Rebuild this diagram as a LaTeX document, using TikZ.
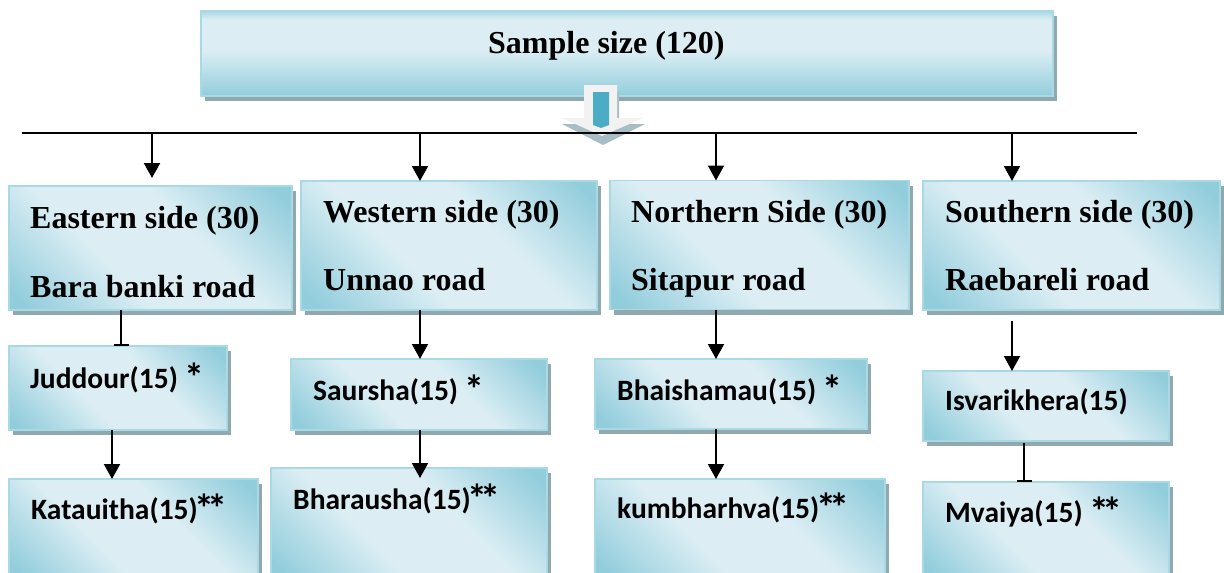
\documentclass[tikz,border=0pt]{standalone}
\usepackage{fontspec}
\setmainfont{Liberation Serif}
\newfontfamily\calfont{Carlito}
\usetikzlibrary{arrows.meta,shadows}
\definecolor{bdark}{HTML}{92CDDC}
\definecolor{blight}{HTML}{DCEEF4}
\definecolor{bborder}{HTML}{A9D9E5}
\definecolor{shgray}{HTML}{8FA9AF}
\definecolor{ablue}{HTML}{4BACC6}
\definecolor{awhite}{HTML}{F2F2F2}
\definecolor{agray}{HTML}{A7BEC4}
\pgfdeclarehorizontalshading{boxsh}{100bp}{color(0bp)=(bdark); color(18bp)=(bdark); color(40bp)=(blight); color(60bp)=(blight); color(82bp)=(bdark); color(100bp)=(bdark)}
\pgfdeclareverticalshading{topsh}{100bp}{color(0bp)=(bdark); color(25bp)=(bdark); color(52bp)=(blight); color(70bp)=(blight); color(75bp)=(bdark!70!blight); color(100bp)=(bdark!70!blight)}
\newcommand{\oneast}{\raisebox{-3pt}{\fontsize{40}{40}\selectfont *}}
\newcommand{\twoast}{\raisebox{-3pt}{\fontsize{40}{40}\selectfont *\kern-7pt*}}
\tikzset{
  boxbase/.style={draw=bborder, line width=1.3pt, inner sep=0pt, outer sep=0pt,
    general shadow={fill=shgray, shadow xshift=4pt, shadow yshift=-5pt}},
  bigbox/.style={boxbase, shading=boxsh, shading angle=45},
  topbox/.style={boxbase, shading=topsh},
  bigtxt/.style={anchor=base west, inner sep=0pt, font=\fontsize{32}{36}\selectfont\bfseries},
  smalltxt/.style={anchor=base west, inner sep=0pt, font=\fontsize{29.5}{32}\selectfont\calfont\bfseries},
  conn/.style={line width=2pt, -{Triangle[width=16pt,length=15pt]}},
  tconn/.style={line width=2pt, -{Bar[width=15pt,line width=2pt]}}
}
\begin{document}
\begin{tikzpicture}[x=1pt,y=-1pt]
\useasboundingbox (0,0) rectangle (1224,573);
% top box
\node[topbox, minimum width=852pt, minimum height=85pt] (top) at (627,53.5) {};
\node[bigtxt] (toptxt) at (488,53) {Sample size (120)};
% block arrow
\fill[agray] (584,92) -- (619,92) -- (619,124) -- (645,124) -- (603,145) -- (562,124) -- (584,124) -- cycle;
\fill[awhite] (584,85) -- (617,85) -- (617,118) -- (643,118) -- (602,136) -- (562,118) -- (584,118) -- cycle;
\fill[ablue] (593,92) -- (609,92) -- (609,125) -- (601,128) -- (593,125) -- cycle;
% horizontal line
\coordinate (hl) at (22,133);
\coordinate (hr) at (1137,133);
\draw[line width=2pt] (hl) -- (hr);
\coordinate (b1) at (152,133);
\coordinate (b2) at (420,133);
\coordinate (b3) at (716,133);
\coordinate (b4) at (1012,133);
% big boxes
\node[bigbox, minimum width=283pt, minimum height=124pt] (east) at (150.5,248) {};
\node[bigbox, minimum width=296pt, minimum height=129pt] (west) at (449,245.5) {};
\node[bigbox, minimum width=299pt, minimum height=129pt] (north) at (759.5,245) {};
\node[bigbox, minimum width=297pt, minimum height=129pt] (south) at (1071.5,245.5) {};
\node[bigtxt] (eastA) at (30,228) {Eastern side (30)};
\node[bigtxt] (eastB) at (30,297) {Bara banki road};
\node[bigtxt] (westA) at (323,222) {Western side (30)};
\node[bigtxt] (westB) at (323,290) {Unnao road};
\node[bigtxt] (northA) at (631,222) {Northern Side (30)};
\node[bigtxt] (northB) at (631,290) {Sitapur road};
\node[bigtxt] (southA) at (945,222) {Southern side (30)};
\node[bigtxt] (southB) at (945,290) {Raebareli road};
% small boxes
\node[bigbox, minimum width=218pt, minimum height=84pt] (judd) at (118,388) {};
\node[bigbox, minimum width=249pt, minimum height=101pt] (kata) at (133.5,529.5) {};
\node[bigbox, minimum width=256pt, minimum height=71pt] (saur) at (419,394.5) {};
\node[bigbox, minimum width=276pt, minimum height=112pt] (bhar) at (409,524) {};
\node[bigbox, minimum width=272pt, minimum height=70pt] (bhai) at (731,394) {};
\node[bigbox, minimum width=290pt, minimum height=101pt] (kumb) at (740,529.5) {};
\node[bigbox, minimum width=246pt, minimum height=70pt] (isva) at (1046,406) {};
\node[bigbox, minimum width=246pt, minimum height=98pt] (mvai) at (1046,531) {};
\node[smalltxt] (juddT) at (30,388) {Juddour(15) \oneast};
\node[smalltxt] (kataT) at (31,519) {Katauitha(15)\kern-3pt\twoast};
\node[smalltxt] (saurT) at (313,400) {Saursha(15) \oneast};
\node[smalltxt] (bharT) at (293,509) {Bharausha(15)\kern-3pt\twoast};
\node[smalltxt] (bhaiT) at (617,400) {Bhaishamau(15) \oneast};
\node[smalltxt] (kumbT) at (617,518) {kumbharhva(15)\kern-3pt\twoast};
\node[smalltxt] (isvaT) at (945,410) {Isvarikhera(15)};
\node[smalltxt] (mvaiT) at (945,522) {Mvaiya(15) \twoast};
% connectors from line
\draw[conn] (b1) -- ([yshift=8pt]east.north -| b1);
\draw[conn] (b2) -- (west.north -| b2);
\draw[conn] (b3) -- (north.north -| b3);
\draw[conn] (b4) -- (south.north -| b4);
% column connectors
\draw[tconn] (east.south -| 121,0) -- (judd.north -| 121,0);
\draw[conn] (judd.south -| 112,0) -- (kata.north -| 112,0);
\draw[conn] (west.south -| 420,0) -- (saur.north -| 420,0);
\draw[conn] (saur.south -| 420,0) -- ([yshift=-10pt]bhar.north -| 420,0);
\draw[conn] (north.south -| 716,0) -- (bhai.north -| 716,0);
\draw[conn] (bhai.south -| 716,0) -- (kumb.north -| 716,0);
\draw[conn] ([yshift=-11pt]south.south -| 1012,0) -- (isva.north -| 1012,0);
\draw[tconn] ([yshift=-2pt]isva.south -| 1024,0) -- (mvai.north -| 1024,0);
\end{tikzpicture}
\end{document}
